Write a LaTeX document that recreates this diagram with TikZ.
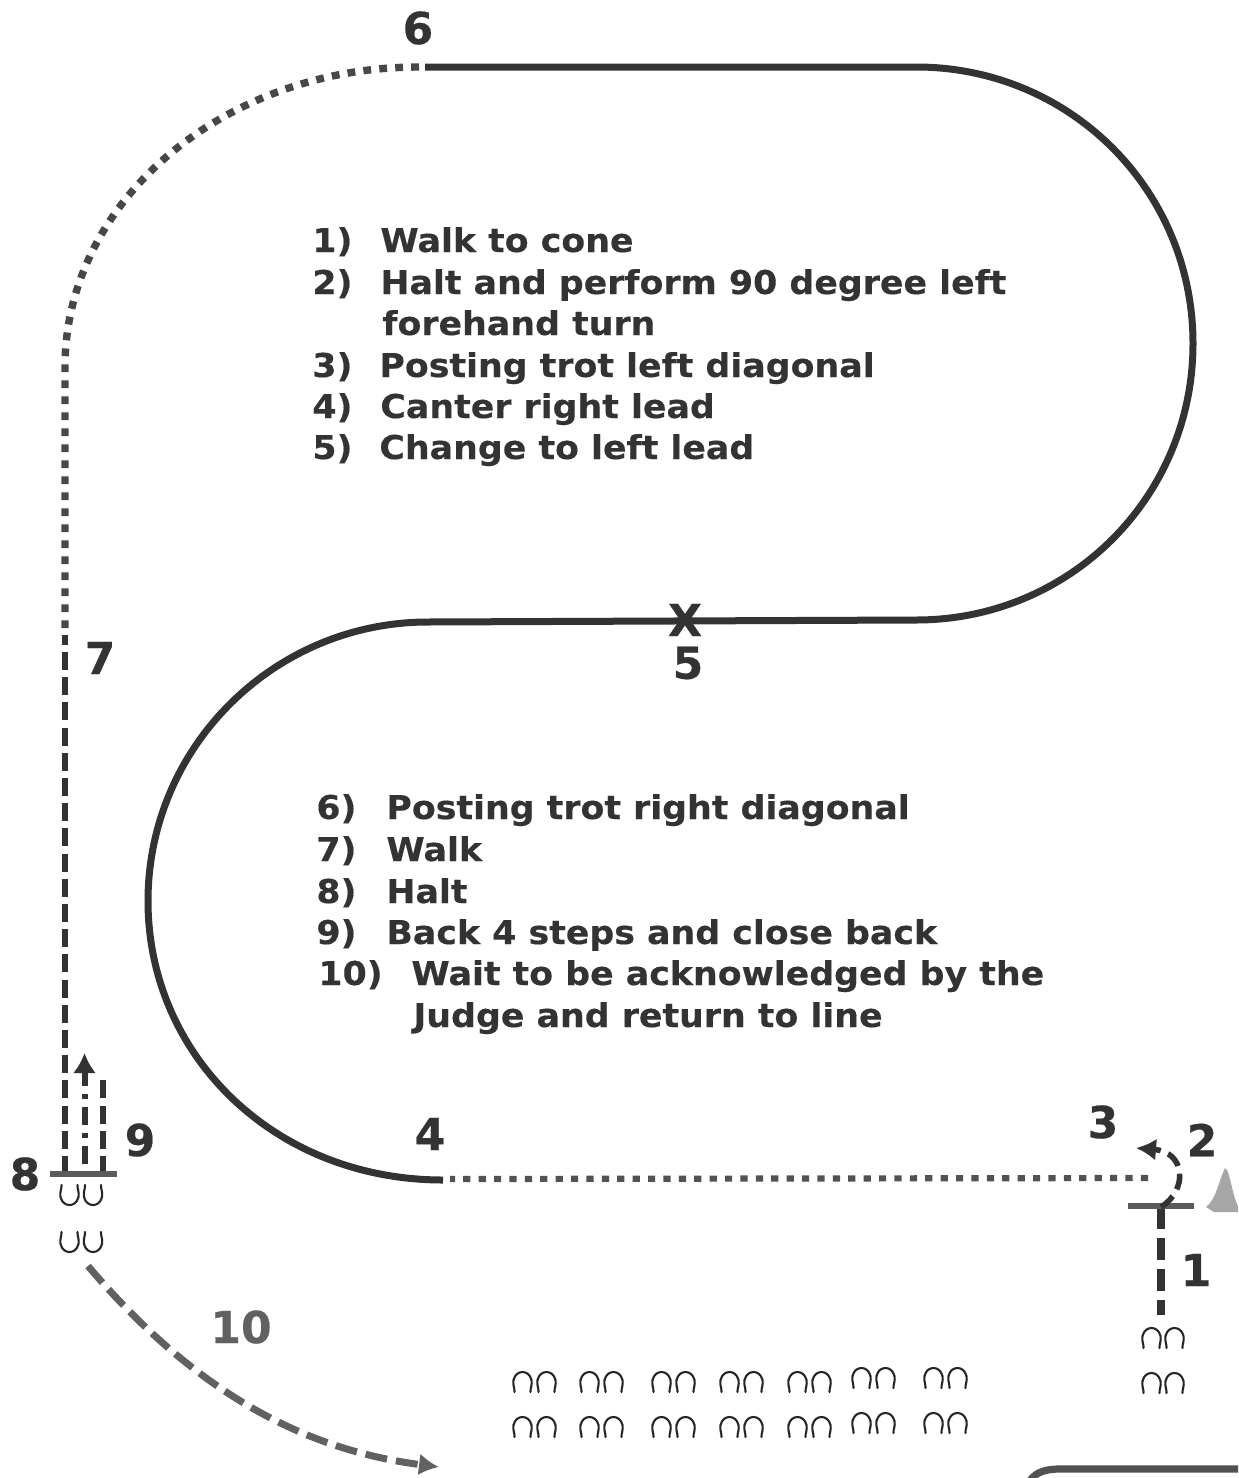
\documentclass[tikz,border=0pt]{standalone}
\usepackage{fontspec}
\usetikzlibrary{arrows.meta}
\setmainfont{DejaVu Sans}[FakeStretch=1.06,BoldFeatures={FakeBold=0.35}]
\newfontfamily\numfont{DejaVu Sans}[BoldFeatures={FakeBold=0.5}]
\definecolor{ink}{HTML}{333333}
\definecolor{pathink}{HTML}{333333}
\tikzset{
  listtext/.style={font=\fontsize{16.4}{20}\selectfont\bfseries,text=ink,anchor=base west,inner sep=0pt},
  numlabel/.style={font=\fontsize{22}{24}\selectfont\numfont\bfseries,text=ink,inner sep=0pt},
  solidpath/.style={draw=pathink,line width=3.5pt},
  dotpath/.style={draw=pathink!90,line width=3.7pt,dash pattern=on 3.9pt off 4.1pt},
  lowdot/.style={draw=pathink!85,line width=3.1pt,dash pattern=on 3.6pt off 4.1pt},
  dashpath/.style={draw=pathink,line width=3pt,dash pattern=on 9pt off 3.6pt},
  bar/.style={draw=pathink!80,line width=2.6pt},
  shoeline/.style={draw=black!85,line width=1.05pt,line cap=round},
  nshoe/.pic={\draw[shoeline] (1.5,20) .. controls (2,17) and (-0.5,13) .. (0.5,8) .. controls (2,2) and (6,0) .. (9.5,0) .. controls (13,0) and (17,2) .. (18.5,8) .. controls (19.5,13) and (17,17) .. (17.5,20);},
  ushoe/.pic={\draw[shoeline] (1.5,0) .. controls (2,3) and (-0.5,7) .. (0.5,12) .. controls (2,18) and (6,20) .. (9.5,20) .. controls (13,20) and (17,18) .. (18.5,12) .. controls (19.5,7) and (17,3) .. (17.5,0);}
}
\begin{document}
\begin{tikzpicture}[x=0.5pt,y=-0.5pt]
\useasboundingbox (0,0) rectangle (1238,1478);
% anchors
\coordinate (topstart) at (425,67);
\coordinate (topend) at (916,67);
\coordinate (midright) at (916,620);
\coordinate (midleft) at (428,622);
\coordinate (lowend) at (443,1180);
% solid route
\draw[solidpath] (topstart) -- (topend)
  .. controls (1070,67) and (1193,190) .. (1193,343.5)
  .. controls (1193,497) and (1070,620) .. (midright)
  -- (midleft)
  .. controls (274,622) and (148,747) .. (148,901)
  .. controls (148,1055) and (274,1180) .. (lowend);
% dotted routes
\coordinate (trotend) at (1148,1178);
\coordinate (trotstart) at (450,1179);
\draw[lowdot] (trotend) -- (trotstart);
\coordinate (walkstart) at (65,635);
\coordinate (curvetop) at (65,367);
\coordinate (dotstart) at (419,67);
\draw[dotpath] (dotstart)
  .. controls (224,67) and (65,201) .. (curvetop) -- (walkstart);
% walk to halt
\coordinate (halt8) at (65,1174);
\draw[dashpath] (halt8) -- (walkstart);
\coordinate (b9) at (103,1174);
\coordinate (b9top) at (103,1080);
\draw[dashpath] (b9) -- (b9top);
\coordinate (b9m) at (84.5,1164);
\coordinate (b9mtop) at (84.5,1053);
\draw[draw=pathink,line width=3pt,dash pattern=on 9pt off 4pt on 2.4pt off 4pt,-{Latex[length=10pt,width=11.5pt]}] (b9m) -- (b9mtop);
\draw[bar] (50,1174) -- (117,1174);
% entry
\coordinate (t1) at (1161,1207);
\coordinate (t1b) at (1161,1315);
\draw[draw=pathink,line width=4pt,dash pattern=on 11pt off 4.5pt] (t1) -- (t1b);
\draw[bar] (1128,1206) -- (1194,1206);
\coordinate (turnend) at (1136,1148);
\draw[draw=pathink,line width=2.8pt,dash pattern=on 8pt off 4pt,-{Latex[length=10pt,width=11pt]}] (t1) .. controls (1188,1190) and (1186,1152) .. (turnend);
% cone
\fill[black!35] (1225,1168) .. controls (1230,1170) and (1232,1195) .. (1238,1206) -- (1238,1212) -- (1214,1212) -- (1206,1207) .. controls (1216,1200) and (1219,1180) .. (1225,1168) -- cycle;
% exit
\coordinate (exit) at (88,1266);
\coordinate (exitend) at (439,1467);
\draw[draw=black!62,line width=3.5pt,dash pattern=on 11pt off 4.5pt,-{Latex[length=10pt,width=11pt]}] (exit) .. controls (185,1380) and (290,1448) .. (exitend);
% bottom-right corner
\draw[draw=pathink!85,line width=3.6pt] (1238,1469) -- (1060,1469) .. controls (1042,1469) and (1033,1474) .. (1028,1484);
% horseshoes
\foreach \px/\py in {60/1185,83.5/1185,60/1232,83.5/1232} \pic at (\px,\py) {ushoe};
\foreach \px/\py in {1142/1328,1165/1328,1142/1373,1165/1373} \pic at (\px,\py) {nshoe};
\foreach \px/\py in {513/1372,580/1372,652/1372,720/1372,788/1372,852/1368,924/1368}{
  \pic at (\px,\py) {nshoe};
  \pic at (\px+24,\py) {nshoe};
  \pic at (\px,\py+45) {nshoe};
  \pic at (\px+24,\py+45) {nshoe};
}
% numbers
\node[numlabel] (n6) at (418,28) {6};
\node[numlabel] (n7) at (100,658) {7};
\node[numlabel] (n8) at (25,1174) {8};
\node[numlabel] (n9) at (140,1140) {9};
\node[numlabel,text=black!62] (n10) at (241,1327) {10};
\node[numlabel] (n4) at (430,1134) {4};
\node[numlabel] (n3) at (1103,1122) {3};
\node[numlabel] (n2) at (1202,1140) {2};
\node[numlabel] (n1) at (1196,1270) {1};
\node[numlabel] (n5) at (688,663) {5};
\node[numlabel] (xmark) at (685,620) {X};
% first list
\node[listtext] (a1) at (312,252) {1)};
\node[listtext] (a1t) at (380,252) {Walk to cone};
\node[listtext] (a2) at (312,294) {2)};
\node[listtext] (a2t) at (380,294) {Halt and perform 90 degree left};
\node[listtext] (a2u) at (382,335) {forehand turn};
\node[listtext] (a3) at (312,377) {3)};
\node[listtext] (a3t) at (379,377) {Posting trot left diagonal};
\node[listtext] (a4) at (312,418) {4)};
\node[listtext] (a4t) at (380,418) {Canter right lead};
\node[listtext] (a5) at (312,459) {5)};
\node[listtext] (a5t) at (379,459) {Change to left lead};
% second list
\node[listtext] (b6) at (316,819) {6)};
\node[listtext] (b6t) at (386,819) {Posting trot right diagonal};
\node[listtext] (b7) at (316,861) {7)};
\node[listtext] (b7t) at (386,861) {Walk};
\node[listtext] (b8) at (316,903) {8)};
\node[listtext] (b8t) at (386,903) {Halt};
\node[listtext] (b9l) at (316,944) {9)};
\node[listtext] (b9t) at (386,944) {Back 4 steps and close back};
\node[listtext] (b10) at (318,985) {10)};
\node[listtext] (b10t) at (411,985) {Wait to be acknowledged by the};
\node[listtext] (b10u) at (413,1027) {Judge and return to line};
\end{tikzpicture}
\end{document}
